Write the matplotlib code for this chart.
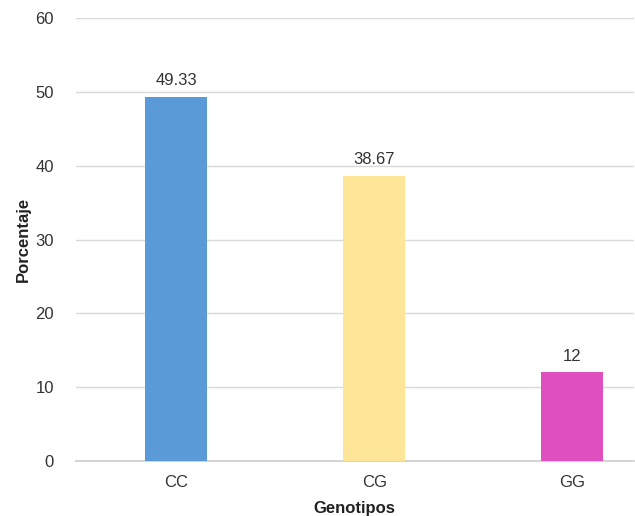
import matplotlib.pyplot as plt

plt.rcParams["font.family"] = ["Liberation Sans", "DejaVu Sans"]

# genotype frequencies (%)
genotipos = ["CC", "CG", "GG"]
porcentaje = [49.33, 38.67, 12]
etiquetas = ["49.33", "38.67", "12"]
colores = ["#5A9AD6", "#FFE597", "#E04FBE"]

fig = plt.figure(figsize=(6.35, 5.16), dpi=100)
ax = fig.add_axes([0.1197, 0.1066, 0.878, 0.8584])

x = list(range(len(genotipos)))
bars = ax.bar(x, porcentaje, width=0.314, color=colores, zorder=3)
for b, txt in zip(bars, etiquetas):
    ax.text(b.get_x() + b.get_width() / 2, b.get_height() + 1.2, txt,
            ha="center", va="bottom", fontsize=12, color="#333333")

ax.set_xlim(-0.506, 2.31)
ax.set_ylim(0, 60)
ax.set_yticks(range(0, 61, 10))
ax.set_xticks(x)
ax.set_xticklabels(genotipos)
ax.tick_params(axis="both", length=0, labelsize=12, colors="#333333")
ax.tick_params(axis="y", pad=16)
ax.tick_params(axis="x", pad=10)
ax.grid(axis="y", color="#d9d9d9", linewidth=1, zorder=0)
ax.axhline(0, color="#cccccc", linewidth=1.2, zorder=1, clip_on=False)
for s in ax.spines.values():
    s.set_visible(False)

ax.set_ylabel("Porcentaje", fontsize=12, fontweight="bold", color="#222222", labelpad=3)
ax.set_xlabel("Genotipos", fontsize=12, fontweight="bold", color="#222222", labelpad=8)

fig.savefig("out.png", dpi=100)
